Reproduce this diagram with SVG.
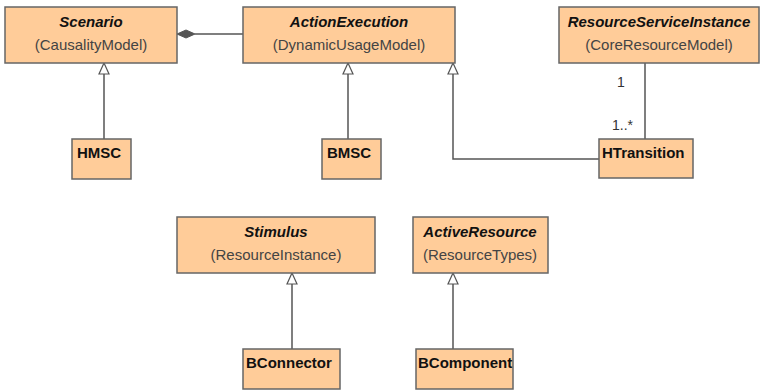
<svg xmlns="http://www.w3.org/2000/svg" width="761" height="390" viewBox="0 0 761 390">
  <style>
    .box { fill: #FFCC99; stroke: #666666; stroke-width: 1.5; }
    .title { font-family: "Liberation Sans", Arial, sans-serif; font-size: 15px; font-weight: bold; font-style: italic; fill: #111111; text-anchor: middle; }
    .sub { font-family: "Liberation Sans", Arial, sans-serif; font-size: 15px; fill: #444444; text-anchor: middle; }
    .name { font-family: "Liberation Sans", Arial, sans-serif; font-size: 15px; font-weight: bold; fill: #111111; }
    .mult { font-family: "Liberation Sans", Arial, sans-serif; font-size: 14px; fill: #333333; }
    .line { fill: none; stroke: #555555; stroke-width: 1.5; }
    .gen { fill: #ffffff; stroke: #555555; stroke-width: 1.2; }
    .comp { fill: #555555; stroke: #555555; stroke-width: 1; }
  </style>
  <rect width="761" height="390" fill="#ffffff"/>

  <g id="connectors">
    <!-- composition Scenario <>- ActionExecution -->
    <line class="line" x1="195" y1="34" x2="243" y2="34"/>
    <polygon class="comp" points="177,34 186,30 195,34 186,38"/>
    <!-- HMSC -> Scenario -->
    <line class="line" x1="104" y1="74" x2="104" y2="139"/>
    <polygon class="gen" points="104,63 109,74 99,74"/>
    <!-- BMSC -> ActionExecution -->
    <line class="line" x1="348" y1="74" x2="348" y2="139"/>
    <polygon class="gen" points="348,63 353,74 343,74"/>
    <!-- HTransition -> ActionExecution -->
    <polyline class="line" points="453,74 453,159 599,159"/>
    <polygon class="gen" points="453,63 458,74 448,74"/>
    <!-- association ResourceServiceInstance - HTransition -->
    <line class="line" x1="645" y1="63" x2="645" y2="139"/>
    <text class="mult" x="617" y="87">1</text>
    <text class="mult" x="612" y="130">1..*</text>
    <!-- BConnector -> Stimulus -->
    <line class="line" x1="292" y1="284" x2="292" y2="349"/>
    <polygon class="gen" points="292,273 297,284 287,284"/>
    <!-- BComponent -> ActiveResource -->
    <line class="line" x1="453" y1="284" x2="453" y2="349"/>
    <polygon class="gen" points="453,273 458,284 448,284"/>
  </g>

  <g id="Scenario">
    <rect class="box" x="5" y="7" width="172" height="56"/>
    <text class="title" x="91" y="27">Scenario</text>
    <text class="sub" x="91" y="50">(CausalityModel)</text>
  </g>
  <g id="ActionExecution">
    <rect class="box" x="243" y="7" width="212" height="56"/>
    <text class="title" x="349" y="27">ActionExecution</text>
    <text class="sub" x="349" y="50">(DynamicUsageModel)</text>
  </g>
  <g id="ResourceServiceInstance">
    <rect class="box" x="559" y="7" width="200" height="56"/>
    <text class="title" x="659" y="27">ResourceServiceInstance</text>
    <text class="sub" x="659" y="50">(CoreResourceModel)</text>
  </g>
  <g id="HMSC">
    <rect class="box" x="72" y="139" width="59" height="40"/>
    <text class="name" x="77" y="158">HMSC</text>
  </g>
  <g id="BMSC">
    <rect class="box" x="322" y="139" width="59" height="40"/>
    <text class="name" x="327" y="158">BMSC</text>
  </g>
  <g id="HTransition">
    <rect class="box" x="599" y="139" width="94" height="39"/>
    <text class="name" x="602" y="158">HTransition</text>
  </g>
  <g id="Stimulus">
    <rect class="box" x="177" y="217" width="198" height="56"/>
    <text class="title" x="276" y="237">Stimulus</text>
    <text class="sub" x="276" y="260">(ResourceInstance)</text>
  </g>
  <g id="ActiveResource">
    <rect class="box" x="413" y="217" width="135" height="56"/>
    <text class="title" x="480" y="237">ActiveResource</text>
    <text class="sub" x="480" y="260">(ResourceTypes)</text>
  </g>
  <g id="BConnector">
    <rect class="box" x="243" y="349" width="97" height="40"/>
    <text class="name" x="246" y="368">BConnector</text>
  </g>
  <g id="BComponent">
    <rect class="box" x="416" y="349" width="97" height="40"/>
    <text class="name" x="418" y="368">BComponent</text>
  </g>
</svg>
